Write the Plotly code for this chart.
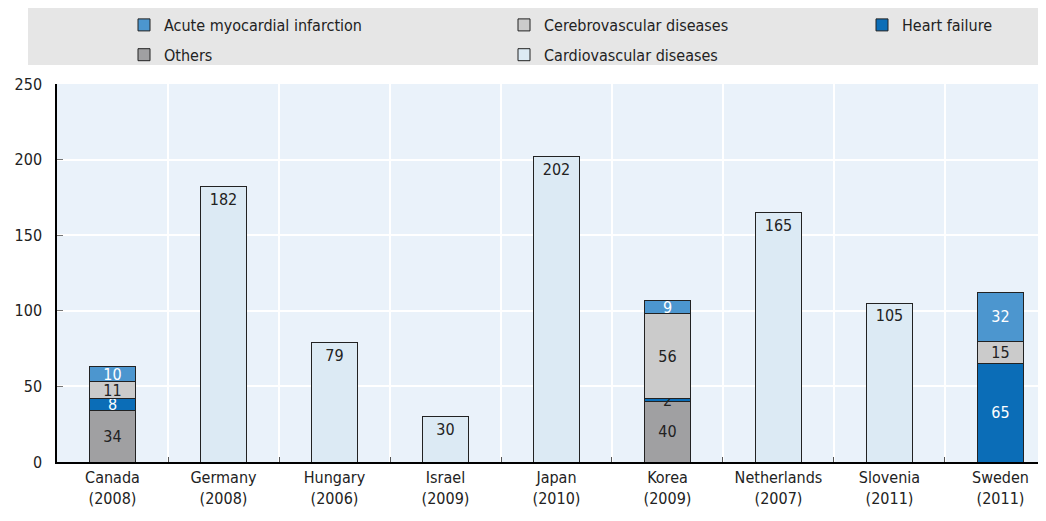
import plotly.graph_objects as go

categories = ["Canada<br>(2008)", "Germany<br>(2008)", "Hungary<br>(2006)", "Israel<br>(2009)",
              "Japan<br>(2010)", "Korea<br>(2009)", "Netherlands<br>(2007)", "Slovenia<br>(2011)",
              "Sweden<br>(2011)"]
others = [34, None, None, None, None, 40, None, None, None]
heart_failure = [8, None, None, None, None, 2, None, None, 65]
cerebro = [11, None, None, None, None, 56, None, None, 15]
ami = [10, None, None, None, None, 9, None, None, 32]
cardio = [None, 182, 79, 30, 202, None, 165, 105, None]

FONT = "DejaVu Sans Condensed, Liberation Sans Narrow, Roboto, Arial"

hf_text_colors = ["white", "white", "white", "white", "white", "#222222", "white", "white", "white"]

series = [
    ("Others", others, "#A0A0A2", "#222222", "middle", "legend"),
    ("Heart failure", heart_failure, "#0B6DB7", hf_text_colors, "middle", "legend3"),
    ("Cerebrovascular diseases", cerebro, "#CBCBCB", "#222222", "middle", "legend2"),
    ("Acute myocardial infarction", ami, "#4C96CF", "white", "middle", "legend"),
    ("Cardiovascular diseases", cardio, "#DCEAF4", "#222222", "end", "legend2"),
]
ranks = {"Acute myocardial infarction": 1, "Others": 2, "Cerebrovascular diseases": 1,
         "Cardiovascular diseases": 2, "Heart failure": 1}

fig = go.Figure()
for name, vals, color, tcol, anchor, leg in series:
    fig.add_trace(go.Bar(
        name=name, x=categories, y=vals,
        marker=dict(color=color, line=dict(color="#222222", width=1)),
        text=[str(v) if v is not None else "" for v in vals],
        textposition="inside", insidetextanchor=anchor, textangle=0,
        textfont=dict(color=tcol, size=16, family=FONT),
        width=0.41, legend=leg, legendrank=ranks[name], legendgroup=name,
    ))

fig.add_shape(type="rect", xref="paper", yref="paper",
              x0=-0.0293, x1=1.0, y0=1.050, y1=1.209,
              fillcolor="#E6E6E6", line=dict(width=0), layer="below")

legcommon = dict(orientation="v", yanchor="top", xanchor="left", y=1.0, yref="container",
                 bgcolor="rgba(0,0,0,0)", font=dict(size=16, family=FONT, color="#222222"),
                 tracegroupgap=6, itemwidth=30)

fig.update_layout(
    width=1038, height=513,
    barmode="stack",
    paper_bgcolor="white", plot_bgcolor="#EAF2FA",
    margin=dict(l=49, r=0, t=76, b=59),
    font=dict(family=FONT, size=16, color="#222222"),
    uniformtext=dict(minsize=16, mode="show"),
    legend=dict(x=(124 - 57) / 989, **legcommon),
    legend2=dict(x=(504 - 57) / 989, **legcommon),
    legend3=dict(x=(862 - 57) / 989, **legcommon),
    xaxis=dict(range=[-0.5, 8.41], tickson="boundaries", showgrid=True,
               gridcolor="white", gridwidth=1.5, ticks="inside", ticklen=5,
               tickcolor="#555555", showline=True, linecolor="black", linewidth=1.5,
               tickfont=dict(size=16)),
    yaxis=dict(range=[0, 250], dtick=50, showgrid=True, gridcolor="white", gridwidth=1.5,
               ticks="inside", ticklen=6, tickcolor="#777777", showline=True,
               linecolor="black", linewidth=1.5, zeroline=False, ticklabelstandoff=10,
               tickfont=dict(size=16)),
)

fig.write_html("out.html")
